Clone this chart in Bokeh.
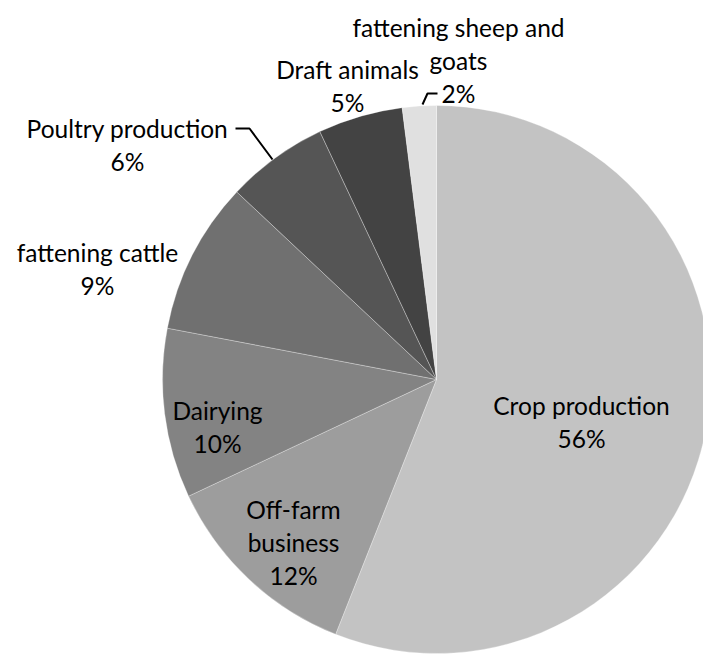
import math

from bokeh.core.properties import value
from bokeh.embed import file_html
from bokeh.models import ColumnDataSource, Range1d
from bokeh.plotting import figure
from bokeh.resources import INLINE

# Share of household income by source (percent)
categories = [
    "Crop production",
    "Off-farm business",
    "Dairying",
    "fattening cattle",
    "Poultry production",
    "Draft animals",
    "fattening sheep and goats",
]
shares = [56, 12, 10, 9, 6, 5, 2]
colors = ["#c3c3c3", "#9d9d9d", "#838383", "#707070", "#555555", "#434343", "#e0e0e0"]

# Label text per slice, split into the lines as they are set
label_lines = [
    ["Crop production", "56%"],
    ["Off-farm", "business", "12%"],
    ["Dairying", "10%"],
    ["fattening cattle", "9%"],
    ["Poultry production", "6%"],
    ["Draft animals", "5%"],
    ["fattening sheep and", "goats", "2%"],
]

W, H = 703, 655
CX, CY, R = 436, H - 379, 274
FONT = "Lato"
FONT_SIZE = "24.5px"
LINE_STEP = 33

# Layout: centre x and first baseline (from top of page) of each label block
label_anchor = [
    (581, 405),
    (293, 509),
    (217, 410),
    (97, 252),
    (127, 128),
    (347, 69),
    (458, 27),
]

p = figure(
    width=W,
    height=H,
    x_range=Range1d(0, W),
    y_range=Range1d(0, H),
    output_backend="svg",
    toolbar_location=None,
    min_border=0,
)
p.axis.visible = False
p.grid.visible = False
p.outline_line_color = None
p.background_fill_color = "white"
p.border_fill_color = "white"

# Wedges, clockwise from 12 o'clock
total = float(sum(shares))
starts, ends = [], []
cum = 0.0
for s in shares:
    starts.append(math.pi / 2 - 2 * math.pi * cum / total)
    cum += s
    ends.append(math.pi / 2 - 2 * math.pi * cum / total)

src = ColumnDataSource(dict(
    cat=categories, share=shares, color=colors, start=starts, end=ends,
))
p.wedge(
    x=CX, y=CY, radius=R,
    start_angle="start", end_angle="end", direction="clock",
    fill_color="color", line_color="white", line_width=0.6, line_alpha=0.5,
    source=src,
)

# Labels
xs, ys, texts = [], [], []
for lines, (lx, ly) in zip(label_lines, label_anchor):
    for i, t in enumerate(lines):
        xs.append(lx)
        ys.append(H - (ly + i * LINE_STEP))
        texts.append(t)

p.text(
    x=xs, y=ys, text=texts,
    text_font=value(FONT), text_font_size=value(FONT_SIZE),
    text_color="black", text_align="center", text_baseline="alphabetic",
)

# Leader lines for the two small slices near the top
leaders_x = [[235, 249, 272], [437, 427, 422]]
leaders_y = [[H - 128, H - 128, H - 159], [H - 93, H - 93, H - 104]]
p.multi_line(xs=leaders_x, ys=leaders_y, line_color="black", line_width=2)

open("out.html", "w").write(file_html(p, INLINE))
